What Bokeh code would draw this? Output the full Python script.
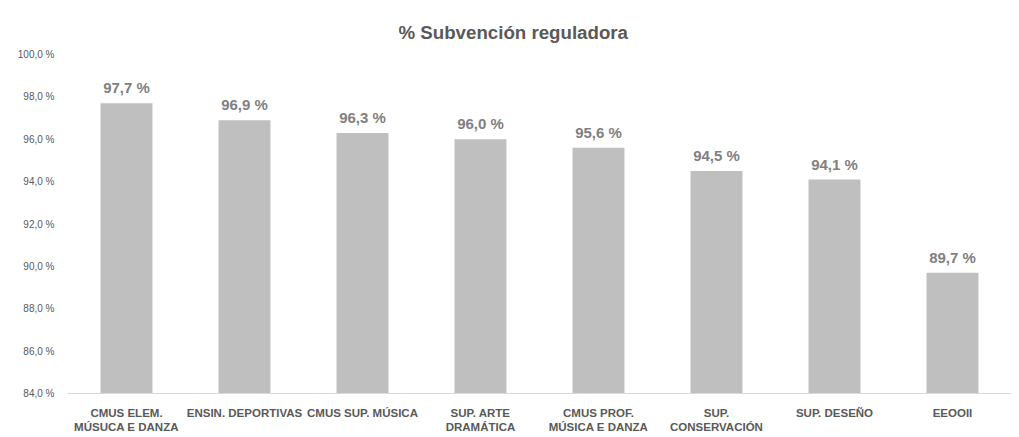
from bokeh.plotting import figure
from bokeh.models import FixedTicker, ColumnDataSource, Range1d
from bokeh.core.properties import value
from bokeh.embed import file_html
from bokeh.resources import INLINE

categories = ["CMUS ELEM.\nMÚSUCA E DANZA", "ENSIN. DEPORTIVAS", "CMUS SUP. MÚSICA",
              "SUP. ARTE\nDRAMÁTICA", "CMUS PROF.\nMÚSICA E DANZA", "SUP.\nCONSERVACIÓN",
              "SUP. DESEÑO", "EEOOII"]
values = [97.7, 96.9, 96.3, 96.0, 95.6, 94.5, 94.1, 89.7]
y_ticks = [84, 86, 88, 90, 92, 94, 96, 98, 100]
y_tick_labels = ["84,0 %", "86,0 %", "88,0 %", "90,0 %", "92,0 %", "94,0 %", "96,0 %", "98,0 %", "100,0 %"]
title_text = "% Subvención reguladora"

FONT = "Liberation Sans"
idx = list(range(len(categories)))
labels = [f"{v:.1f}".replace(".", ",") + " %" for v in values]
src = ColumnDataSource(dict(x=idx, top=values, lab=labels))

p = figure(width=1011, height=435, output_backend="svg", toolbar_location=None,
           x_range=Range1d(-0.5, len(categories) - 0.5), y_range=Range1d(84, 100),
           min_border_left=67, min_border_right=0, min_border_top=54, min_border_bottom=42)
p.outline_line_color = None
p.background_fill_color = "white"
p.border_fill_color = "white"
p.grid.visible = False

p.title.text = title_text
p.title.align = "left"
p.title.offset = 331
p.title.standoff = 24
p.title.text_font = FONT
p.title.text_font_size = "18.7px"
p.title.text_font_style = "bold"
p.title.text_color = "#595959"

p.vbar(x="x", top="top", bottom=84, width=0.44, source=src, color="#bfbfbf", line_color=None)
p.text(x="x", y="top", text="lab", source=src, text_align="center", text_baseline="bottom",
       y_offset=-7, text_font=value(FONT), text_font_size="15px", text_font_style="bold",
       text_color="#808080")

p.yaxis.ticker = FixedTicker(ticks=y_ticks)
p.yaxis.major_label_overrides = {t: l for t, l in zip(y_ticks, y_tick_labels)}
p.yaxis.axis_line_color = None
p.yaxis.major_tick_line_color = None
p.yaxis.minor_tick_line_color = None
p.yaxis.major_label_text_font = FONT
p.yaxis.major_label_text_font_size = "10px"
p.yaxis.major_label_text_color = "#595959"
p.yaxis.major_label_standoff = 7

p.xaxis.ticker = FixedTicker(ticks=idx)
p.xaxis.major_label_overrides = {i: c for i, c in zip(idx, categories)}
p.xaxis.axis_line_color = "#d9d9d9"
p.xaxis.major_tick_line_color = None
p.xaxis.minor_tick_line_color = None
p.xaxis.major_label_text_font = FONT
p.xaxis.major_label_text_font_size = "11.5px"
p.xaxis.major_label_text_font_style = "bold"
p.xaxis.major_label_text_color = "#595959"
p.xaxis.major_label_standoff = 7

open("out.html", "w").write(file_html(p, INLINE))
